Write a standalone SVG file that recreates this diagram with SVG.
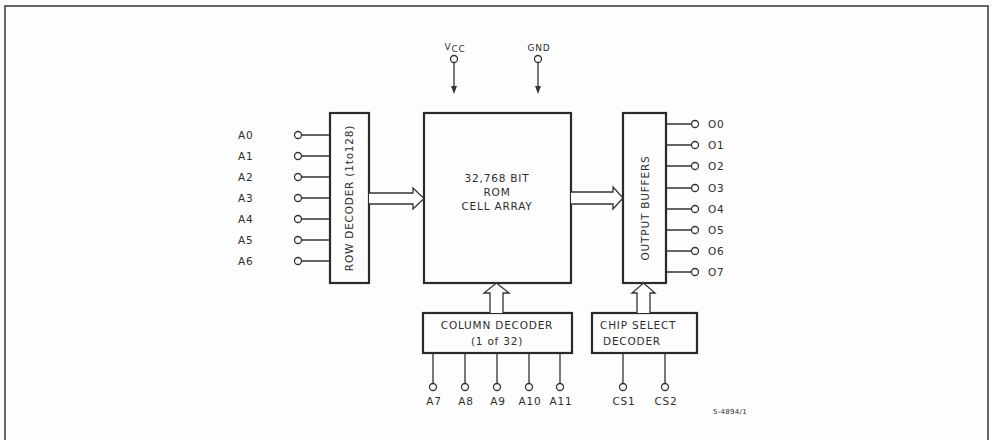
<svg xmlns="http://www.w3.org/2000/svg" width="992" height="440" viewBox="0 0 992 440">
<style>
.box{fill:none;stroke:#2a2a2a;stroke-width:2.2}
.ln{fill:none;stroke:#333;stroke-width:1.3}
.pin{fill:#fff;stroke:#333;stroke-width:1.3}
.hol{fill:#fff;stroke:#333;stroke-width:1.3;stroke-linejoin:miter}
.head{fill:#333;stroke:none}
text{font-family:"DejaVu Sans","Liberation Sans",sans-serif;fill:#2e2e2e;font-size:10.5px;letter-spacing:0.8px}
.c{text-anchor:middle}
.frame{fill:none;stroke:#666;stroke-width:2}
</style>
<rect width="992" height="440" fill="#fdfdfd"/>
<path class="frame" d="M5,440 V6 H988 V440"/>

<g id="row-decoder">
<rect class="box" x="330" y="113" width="39" height="170"/>
<text class="c" transform="translate(353,198) rotate(-90)">ROW DECODER (1to128)</text>
</g>
<g id="rom">
<rect class="box" x="424" y="113" width="147" height="170"/>
<text class="c" x="497" y="182">32,768 BIT</text>
<text class="c" x="497" y="196">ROM</text>
<text class="c" x="497" y="210">CELL ARRAY</text>
</g>
<g id="output-buffers">
<rect class="box" x="623" y="113" width="43" height="170"/>
<text class="c" transform="translate(649,208) rotate(-90)">OUTPUT  BUFFERS</text>
</g>
<g id="column-decoder">
<rect class="box" x="423" y="313" width="149" height="40"/>
<text class="c" x="497" y="329">COLUMN DECODER</text>
<text class="c" x="497" y="345">(1 of 32)</text>
</g>
<g id="chip-select">
<rect class="box" x="592" y="313" width="105" height="40"/>
<text x="600" y="329">CHIP  SELECT</text>
<text x="603" y="345">DECODER</text>
</g>

<g id="connectors">
<path class="ln" d="M302,135H330M302,156H330M302,177H330M302,198H330M302,219H330M302,240H330M302,261H330"/>
<circle class="pin" cx="298" cy="135" r="3.5"/><circle class="pin" cx="298" cy="156" r="3.5"/><circle class="pin" cx="298" cy="177" r="3.5"/><circle class="pin" cx="298" cy="198" r="3.5"/><circle class="pin" cx="298" cy="219" r="3.5"/><circle class="pin" cx="298" cy="240" r="3.5"/><circle class="pin" cx="298" cy="261" r="3.5"/>
<path class="ln" d="M666,124H691M666,145H691M666,166H691M666,188H691M666,209H691M666,230H691M666,251H691M666,272H691"/>
<circle class="pin" cx="695" cy="124" r="3.5"/><circle class="pin" cx="695" cy="145" r="3.5"/><circle class="pin" cx="695" cy="166" r="3.5"/><circle class="pin" cx="695" cy="188" r="3.5"/><circle class="pin" cx="695" cy="209" r="3.5"/><circle class="pin" cx="695" cy="230" r="3.5"/><circle class="pin" cx="695" cy="251" r="3.5"/><circle class="pin" cx="695" cy="272" r="3.5"/>
<path class="hol" d="M369,193H413V188L424,198.5L413,209V204H369"/>
<path class="hol" d="M571,192H613V187L623,198L613,209V204H571"/>
<path class="hol" d="M490,313V293H484L496.5,283L509,293H503V313"/>
<path class="hol" d="M637,313V293H632L643.5,283L655,293H650V313"/>
<circle class="pin" cx="454" cy="59" r="3.5"/>
<line class="ln" x1="454" y1="62.5" x2="454" y2="88"/>
<path class="head" d="M451,86H457L454,94Z"/>
<circle class="pin" cx="538" cy="59" r="3.5"/>
<line class="ln" x1="538" y1="62.5" x2="538" y2="88"/>
<path class="head" d="M535,86H541L538,94Z"/>
<path class="ln" d="M433,353V383.5M465,353V383.5M497,353V383.5M529,353V383.5M560,353V383.5M623,353V383.5M665,353V383.5"/>
<circle class="pin" cx="433" cy="387" r="3.5"/><circle class="pin" cx="465" cy="387" r="3.5"/><circle class="pin" cx="497" cy="387" r="3.5"/><circle class="pin" cx="529" cy="387" r="3.5"/><circle class="pin" cx="560" cy="387" r="3.5"/><circle class="pin" cx="623" cy="387" r="3.5"/><circle class="pin" cx="665" cy="387" r="3.5"/>
</g>

<g id="labels">
<text x="238" y="139">A0</text>
<text x="238" y="160">A1</text>
<text x="238" y="181">A2</text>
<text x="238" y="202">A3</text>
<text x="238" y="223">A4</text>
<text x="238" y="244">A5</text>
<text x="238" y="265">A6</text>
<text x="708" y="128">O0</text>
<text x="708" y="149">O1</text>
<text x="708" y="170">O2</text>
<text x="708" y="192">O3</text>
<text x="708" y="213">O4</text>
<text x="708" y="234">O5</text>
<text x="708" y="255">O6</text>
<text x="708" y="276">O7</text>
<text class="c" x="455" y="50" style="font-size:9px">V<tspan dy="2">CC</tspan></text>
<text class="c" x="539" y="51" style="font-size:9px">GND</text>
<text class="c" x="434" y="405">A7</text>
<text class="c" x="466" y="405">A8</text>
<text class="c" x="498" y="405">A9</text>
<text class="c" x="530" y="405">A10</text>
<text class="c" x="561" y="405">A11</text>
<text class="c" x="624" y="405">CS1</text>
<text class="c" x="666" y="405">CS2</text>
<text x="713" y="414" style="font-size:7px;letter-spacing:0.3px">5-4894/1</text>
</g>
</svg>
